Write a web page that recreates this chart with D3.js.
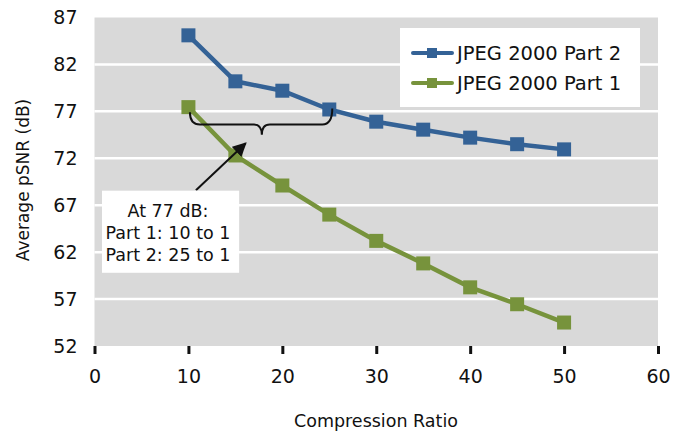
<!doctype html>
<html>
<head>
<script src="https://d3js.org/d3.v7.min.js"></script>
<style>
  body { margin: 0; background: #fff; }
  text { font-family: "DejaVu Sans", sans-serif; fill: #111; }
</style>
</head>
<body>
<svg width="691" height="435"></svg>
<script>
// data
var ratios = [10, 15, 20, 25, 30, 35, 40, 45, 50];
var part2 = [85.1, 80.2, 79.2, 77.2, 75.9, 75.05, 74.2, 73.5, 72.95];
var part1 = [77.45, 72.3, 69.1, 66.0, 63.2, 60.8, 58.25, 56.45, 54.5];
var xTicks = [0, 10, 20, 30, 40, 50, 60];
var yTicks = [52, 57, 62, 67, 72, 77, 82, 87];
var seriesNames = ["JPEG 2000 Part 2", "JPEG 2000 Part 1"];
var noteLines = ["At 77 dB:", "Part 1: 10 to 1", "Part 2: 25 to 1"];

var blue = "#346296", green = "#77933c";

var svg = d3.select("svg");

var x = d3.scaleLinear().domain([0, 60]).range([94.5, 658]);
var y = d3.scaleLinear().domain([52, 87]).range([346, 17.5]);

// plot background
svg.append("rect")
  .attr("x", x(0)).attr("y", y(87))
  .attr("width", x(60) - x(0)).attr("height", y(52) - y(87))
  .attr("fill", "#d9d9d9");

// gridlines
svg.append("g").selectAll("line")
  .data(yTicks.slice(1, -1))
  .enter().append("line")
  .attr("x1", x(0)).attr("x2", x(60))
  .attr("y1", d => y(d)).attr("y2", d => y(d))
  .attr("stroke", "#fff").attr("stroke-width", 2.5);

// x axis
var xAxis = svg.append("g")
  .attr("transform", "translate(0," + y(52) + ")")
  .call(d3.axisBottom(x).tickValues(xTicks).tickSize(8).tickPadding(16));
xAxis.select(".domain").remove();
xAxis.selectAll(".tick line").attr("stroke", "#111").attr("stroke-width", 3);
xAxis.selectAll("text").style("font-size", "19px").attr("fill", "#111")
  .style("font-family", "DejaVu Sans");

// y axis
var yAxis = svg.append("g")
  .attr("transform", "translate(" + (x(0) - 17) + ",0)")
  .call(d3.axisLeft(y).tickValues(yTicks).tickSize(0).tickPadding(0));
yAxis.select(".domain").remove();
yAxis.selectAll("text").style("font-size", "19px").attr("fill", "#111")
  .style("font-family", "DejaVu Sans");

// axis titles
svg.append("text")
  .attr("x", 376).attr("y", 427)
  .attr("text-anchor", "middle")
  .style("font-size", "17.5px")
  .text("Compression Ratio");

svg.append("text")
  .attr("transform", "translate(29," + 180 + ")rotate(-90)")
  .attr("text-anchor", "middle")
  .style("font-size", "17px")
  .text("Average pSNR (dB)");

// series
var line = d3.line().x(d => x(d[0])).y(d => y(d[1]));
[[part2, blue], [part1, green]].forEach(function (s) {
  var pts = ratios.map((r, i) => [r, s[0][i]]);
  svg.append("path")
    .attr("d", line(pts))
    .attr("fill", "none")
    .attr("stroke", s[1]).attr("stroke-width", 4.5);
  svg.append("g").selectAll("rect")
    .data(pts)
    .enter().append("rect")
    .attr("x", d => x(d[0]) - 7).attr("y", d => y(d[1]) - 7)
    .attr("width", 14).attr("height", 14)
    .attr("fill", s[1]);
});

// legend
var legend = svg.append("g");
legend.append("rect")
  .attr("x", 400).attr("y", 28).attr("width", 240).attr("height", 79)
  .attr("fill", "#fff");
seriesNames.forEach(function (name, i) {
  var cy = 53 + i * 30, c = i === 0 ? blue : green;
  legend.append("line")
    .attr("x1", 413).attr("x2", 452).attr("y1", cy).attr("y2", cy)
    .attr("stroke", c).attr("stroke-width", 4).attr("stroke-linecap", "round");
  legend.append("rect")
    .attr("x", 427).attr("y", cy - 5).attr("width", 10).attr("height", 10)
    .attr("fill", c);
  legend.append("text")
    .attr("x", 457).attr("y", cy).attr("dy", "0.36em")
    .style("font-size", "19.5px")
    .text(name);
});

// brace between the two curves at 77 dB
var bx0 = x(10) + 1.5, bx1 = x(25) + 3, bm = (x(10) + x(25)) / 2 + 3;
var by = y(75.6), btip = y(74.5);
var brace = "M" + bx0 + "," + y(76.9) +
  " Q" + bx0 + "," + by + " " + (bx0 + 10) + "," + by +
  " L" + (bm - 8) + "," + by +
  " Q" + bm + "," + by + " " + bm + "," + btip +
  " Q" + bm + "," + by + " " + (bm + 8) + "," + by +
  " L" + (bx1 - 10) + "," + by +
  " Q" + bx1 + "," + by + " " + bx1 + "," + y(77.3);
svg.append("path")
  .attr("d", brace)
  .attr("fill", "none").attr("stroke", "#111").attr("stroke-width", 2);

// arrow
svg.append("defs").append("marker")
  .attr("id", "arrow")
  .attr("viewBox", "0 0 10 10")
  .attr("refX", 9).attr("refY", 5)
  .attr("markerWidth", 7).attr("markerHeight", 7)
  .attr("orient", "auto")
  .append("path").attr("d", "M0,0 L10,5 L0,10 z").attr("fill", "#111");

svg.append("line")
  .attr("x1", x(10.8)).attr("y1", y(68.6))
  .attr("x2", x(16.1)).attr("y2", y(73.6))
  .attr("stroke", "#111").attr("stroke-width", 2)
  .attr("marker-end", "url(#arrow)");

// note box
var note = svg.append("g");
note.append("rect")
  .attr("x", x(0.8)).attr("y", y(68.55))
  .attr("width", x(15.4) - x(0.8)).attr("height", y(59.8) - y(68.55))
  .attr("fill", "#fff");
note.selectAll("text")
  .data(noteLines)
  .enter().append("text")
  .attr("x", 168).attr("y", (d, i) => 211 + i * 22).attr("dy", "0.36em")
  .attr("text-anchor", "middle")
  .style("font-size", "17.5px")
  .text(d => d);
</script>
</body>
</html>
